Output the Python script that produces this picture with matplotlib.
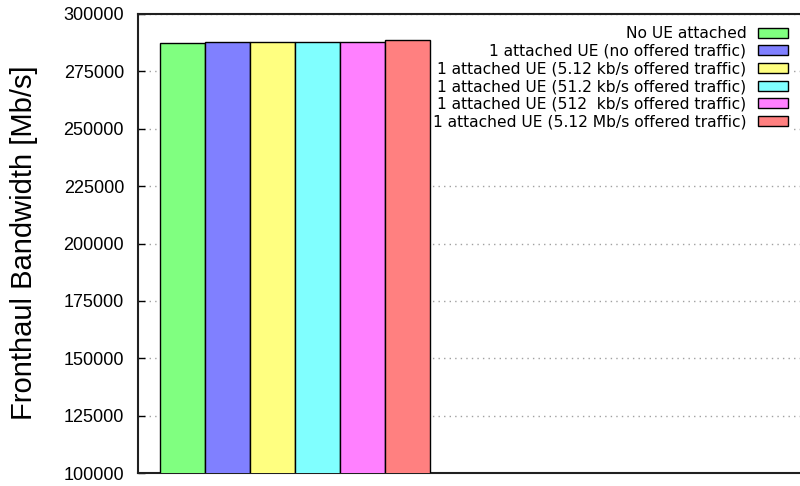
import numpy as np
import matplotlib.pyplot as plt

labels = ["No UE attached",
          "1 attached UE (no offered traffic)",
          "1 attached UE (5.12 kb/s offered traffic)",
          "1 attached UE (51.2 kb/s offered traffic)",
          "1 attached UE (512  kb/s offered traffic)",
          "1 attached UE (5.12 Mb/s offered traffic)"]
bandwidth = [287200, 287700, 287900, 287700, 287700, 288800]
colors = ["#80ff80", "#8080ff", "#ffff80", "#80ffff", "#ff80ff", "#ff8080"]
yticks = [100000, 125000, 150000, 175000, 200000, 225000, 250000, 275000, 300000]

fig = plt.figure(figsize=(8, 4.86), dpi=100)
ax = fig.add_axes([0.1725, 0.0267, 0.84, 0.9445])

for i in range(len(bandwidth)):
    ax.bar(i, bandwidth[i], width=1.0, color=colors[i], edgecolor="black",
           linewidth=1.0, label=labels[i], zorder=3)

ax.set_ylim(100000, 300000)
ax.set_xlim(-0.989, 13.94)
ax.set_yticks(yticks)
ax.set_xticks([])
ax.set_yticklabels([str(v) for v in yticks], family="Liberation Sans", fontsize=13)
ax.tick_params(axis="y", direction="in", length=5, width=1, pad=10)
ax.grid(axis="y", color="#a0a0a0", linestyle=(0, (1, 3)), linewidth=1, zorder=0)
ax.set_axisbelow(True)

for side in ["left", "top", "bottom"]:
    ax.spines[side].set_linewidth(1.5)
    ax.spines[side].set_color("#202020")
ax.spines["right"].set_visible(False)

ax.set_ylabel("Fronthaul Bandwidth [Mb/s]", family="Liberation Sans", fontsize=21)
ax.yaxis.set_label_coords(38 / 800, 0.5, transform=fig.transFigure)

# key sits between the grid and the bars
leg = ax.legend(loc="upper right", bbox_to_anchor=(791 / 800, 1 - 23 / 486),
                bbox_transform=fig.transFigure,
                markerfirst=False, frameon=True, fancybox=False,
                prop={"family": "DejaVu Sans", "size": 11.2},
                handlelength=1.95, handleheight=0.6, handletextpad=0.72,
                labelspacing=0.17, borderpad=0.2, borderaxespad=0)
leg.get_frame().set_facecolor("white")
leg.get_frame().set_edgecolor("white")
leg.get_frame().set_alpha(1)
leg.set_zorder(2)

fig.savefig("out.png", dpi=100)
